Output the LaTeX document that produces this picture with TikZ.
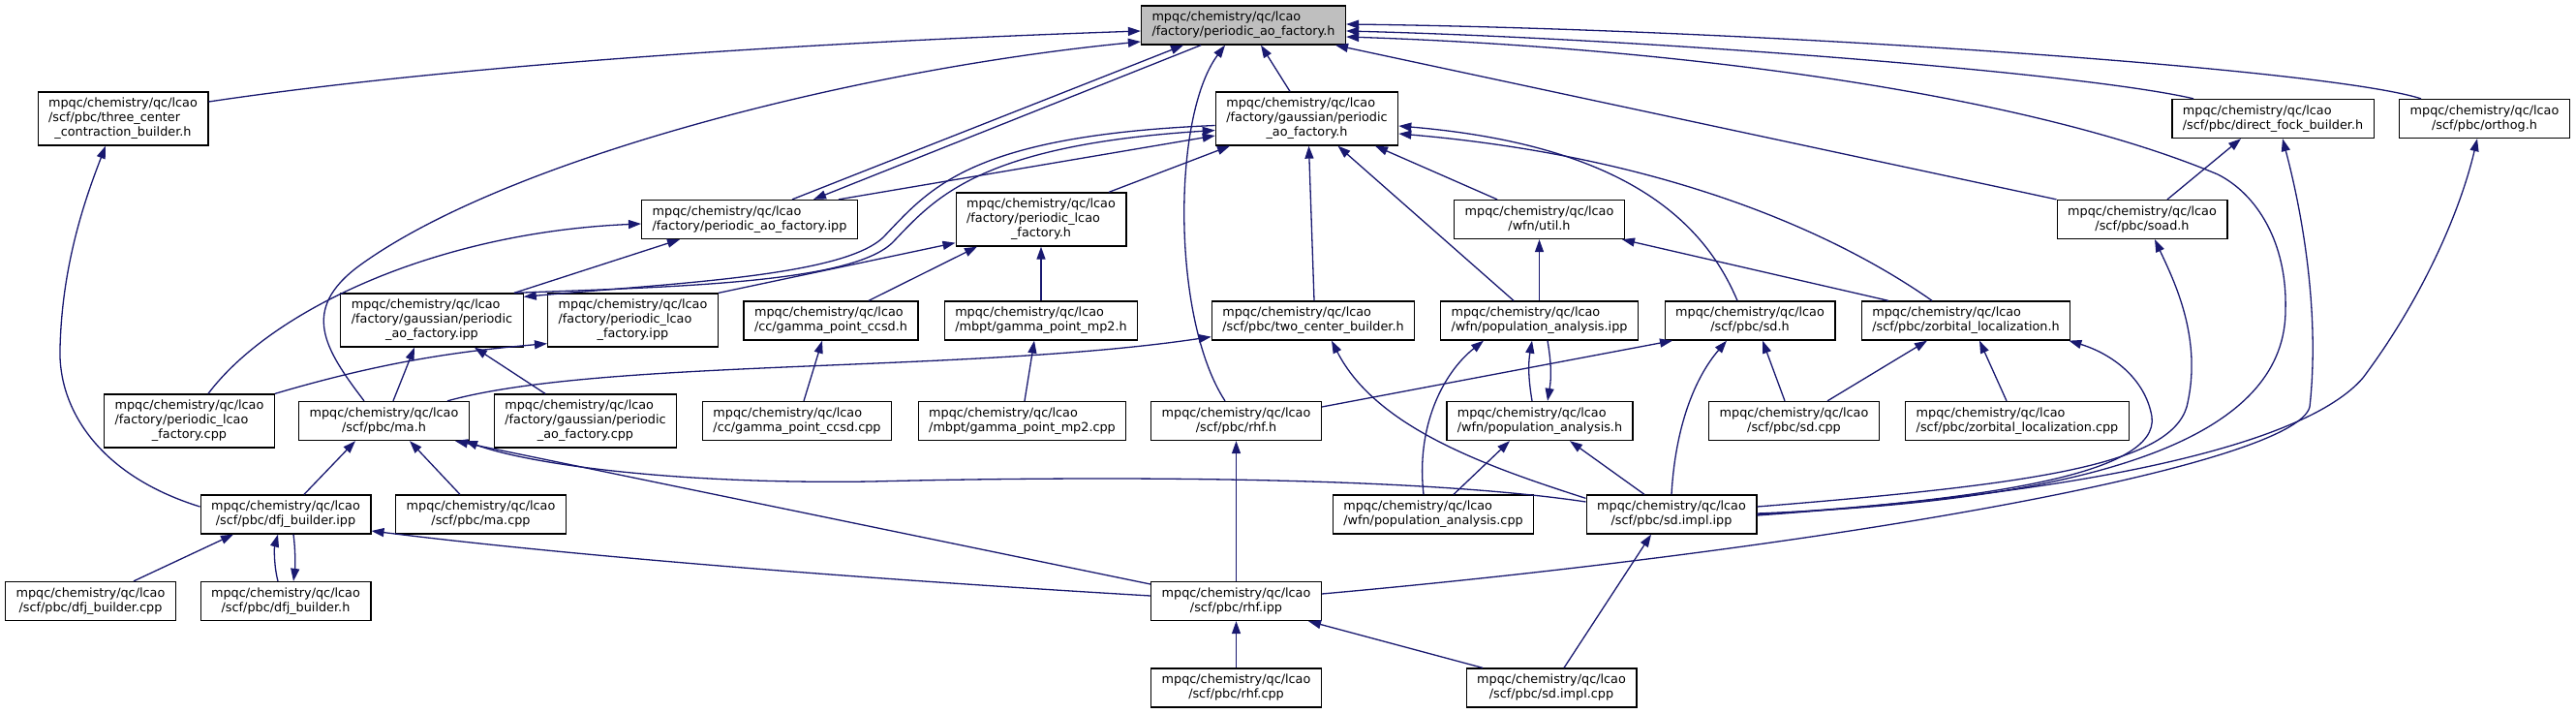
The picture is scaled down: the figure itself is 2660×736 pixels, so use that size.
\documentclass[tikz,border=0pt]{standalone}
\usepackage{fontspec}
\setmainfont{DejaVu Sans}
\usetikzlibrary{arrows.meta}
\definecolor{edgecol}{HTML}{191970}
\definecolor{rootfill}{HTML}{BFBFBF}
\newcommand\twol[2]{\begin{tabular}{@{}l@{}}#1\\\multicolumn{1}{@{}c@{}}{#2}\end{tabular}}
\newcommand\threel[3]{\begin{tabular}{@{}l@{}}#1\\#2\\\multicolumn{1}{@{}c@{}}{#3}\end{tabular}}
\newcommand\mpq{mpqc/chemistry/qc/lcao}
\tikzset{
  nbox/.style={draw=black, line width=1.3pt, fill=white, inner xsep=11pt, inner ysep=5pt,
    font=\fontsize{12.8}{15}\selectfont, anchor=center},
  edg/.style={draw=edgecol, line width=1.3pt, -{Triangle[length=13pt,width=9pt]}, fill=none}
}
\begin{document}
\begin{tikzpicture}[x=1pt,y=-1pt]
\fill[white] (0,0) rectangle (2660,736);
\useasboundingbox (0,0) rectangle (2660,736);
% nodes
\node[nbox,fill=rootfill] (root) at (1284,26) {\twol{\mpq}{/factory/periodic\_ao\_factory.h}};
\node[nbox] (three) at (127,122.5) {\threel{\mpq}{/scf/pbc/three\_center}{\_contraction\_builder.h}};
\node[nbox] (gaoh) at (1349.5,122.5) {\threel{\mpq}{/factory/gaussian/periodic}{\_ao\_factory.h}};
\node[nbox] (dfock) at (2347,122.5) {\twol{\mpq}{/scf/pbc/direct\_fock\_builder.h}};
\node[nbox] (orthog) at (2565.5,122.5) {\twol{\mpq}{/scf/pbc/orthog.h}};
\node[nbox] (paoipp) at (774,226.5) {\twol{\mpq}{/factory/periodic\_ao\_factory.ipp}};
\node[nbox] (plcaoh) at (1075,226.5) {\threel{\mpq}{/factory/periodic\_lcao}{\_factory.h}};
\node[nbox] (util) at (1589.5,226.5) {\twol{\mpq}{/wfn/util.h}};
\node[nbox] (soad) at (2212,226.5) {\twol{\mpq}{/scf/pbc/soad.h}};
\node[nbox] (gaoipp) at (446,330.5) {\threel{\mpq}{/factory/gaussian/periodic}{\_ao\_factory.ipp}};
\node[nbox] (plcaoipp) at (653.5,330.5) {\threel{\mpq}{/factory/periodic\_lcao}{\_factory.ipp}};
\node[nbox] (ccsdh) at (858,331) {\twol{\mpq}{/cc/gamma\_point\_ccsd.h}};
\node[nbox] (mp2h) at (1075,331) {\twol{\mpq}{/mbpt/gamma\_point\_mp2.h}};
\node[nbox] (twoc) at (1356,331) {\twol{\mpq}{/scf/pbc/two\_center\_builder.h}};
\node[nbox] (paipp) at (1589.5,331) {\twol{\mpq}{/wfn/population\_analysis.ipp}};
\node[nbox] (sdh) at (1807,331) {\twol{\mpq}{/scf/pbc/sd.h}};
\node[nbox] (zorbh) at (2030,331) {\twol{\mpq}{/scf/pbc/zorbital\_localization.h}};
\node[nbox] (plcaocpp) at (195.5,434.5) {\threel{\mpq}{/factory/periodic\_lcao}{\_factory.cpp}};
\node[nbox] (mah) at (396.5,434.5) {\twol{\mpq}{/scf/pbc/ma.h}};
\node[nbox] (gaocpp) at (604.5,434.5) {\threel{\mpq}{/factory/gaussian/periodic}{\_ao\_factory.cpp}};
\node[nbox] (ccsdcpp) at (823,434.5) {\twol{\mpq}{/cc/gamma\_point\_ccsd.cpp}};
\node[nbox] (mp2cpp) at (1055.5,434.5) {\twol{\mpq}{/mbpt/gamma\_point\_mp2.cpp}};
\node[nbox] (rhfh) at (1276.5,434.5) {\twol{\mpq}{/scf/pbc/rhf.h}};
\node[nbox] (pah) at (1590,434.5) {\twol{\mpq}{/wfn/population\_analysis.h}};
\node[nbox] (sdcpp) at (1852.5,434.5) {\twol{\mpq}{/scf/pbc/sd.cpp}};
\node[nbox] (zorbcpp) at (2083,434.5) {\twol{\mpq}{/scf/pbc/zorbital\_localization.cpp}};
\node[nbox] (dfjipp) at (295,531) {\twol{\mpq}{/scf/pbc/dfj\_builder.ipp}};
\node[nbox] (macpp) at (496.5,531) {\twol{\mpq}{/scf/pbc/ma.cpp}};
\node[nbox] (pacpp) at (1480,531) {\twol{\mpq}{/wfn/population\_analysis.cpp}};
\node[nbox] (sdimplipp) at (1726,531) {\twol{\mpq}{/scf/pbc/sd.impl.ipp}};
\node[nbox] (dfjcpp) at (93.5,620.5) {\twol{\mpq}{/scf/pbc/dfj\_builder.cpp}};
\node[nbox] (dfjh) at (295,620.5) {\twol{\mpq}{/scf/pbc/dfj\_builder.h}};
\node[nbox] (rhfipp) at (1276.5,620.5) {\twol{\mpq}{/scf/pbc/rhf.ipp}};
\node[nbox] (rhfcpp) at (1276.5,710) {\twol{\mpq}{/scf/pbc/rhf.cpp}};
\node[nbox] (sdimplcpp) at (1602,710) {\twol{\mpq}{/scf/pbc/sd.impl.cpp}};
% edges to root
\draw[edg] ([yshift=17.5pt]three.east) .. controls (450,70) and (800,45) .. ([yshift=-6pt]root.west);
\draw[edg] ([xshift=-20.5pt]mah.north) .. controls (335,360) and (310,320) .. (370,275) .. controls (520,165) and (880,72) .. ([yshift=-17pt]root.west);
\draw[edg] ([xshift=44pt]paoipp.north) -- ([xshift=-62pt]root.south);
\draw[edg] ([xshift=-44pt]root.south) -- ([xshift=66pt]paoipp.north);
\draw[edg] ([xshift=-17.5pt]gaoh.north) -- ([xshift=18pt]root.south);
\draw[edg] ([xshift=-11.5pt]rhfh.north) .. controls (1210,330) and (1210,120) .. ([xshift=-19pt]root.south);
\draw[edg] ([xshift=-82pt]dfock.north) .. controls (2150,75) and (1700,40) .. ([yshift=-6pt]root.east);
\draw[edg] ([xshift=-65.5pt]orthog.north) .. controls (2400,70) and (1800,30) .. ([yshift=1pt]root.east);
\draw[edg] (soad.north west) -- ([xshift=95pt]root.south);
\draw[edg] ([yshift=1pt]sdimplipp.east) .. controls (2200,515) and (2360,440) .. (2360,320) .. controls (2362,250) and (2330,200) .. (2290,180) .. controls (2100,100) and (1750,50) .. ([yshift=-12pt]root.east);
% edges to gaoh
\draw[edg] ([xshift=92pt]paoipp.north) -- ([yshift=-17.5pt]gaoh.west);
\draw[edg] ([yshift=-7pt]gaoh.west) .. controls (1000,140) and (960,195) .. (912,245) .. controls (870,285) and (700,292) .. ([yshift=-4pt]gaoipp.north east);
\draw[edg] ([xshift=-10pt]gaoipp.north east) .. controls (700,296) and (880,292) .. (922,250) .. controls (965,205) and (1010,150) .. ([yshift=-12pt]gaoh.west);
\draw[edg] ([xshift=70pt]plcaoh.north) -- ([xshift=-79.5pt]gaoh.south);
\draw[edg] ([xshift=1pt]twoc.north) -- ([xshift=2pt]gaoh.south);
\draw[edg] ([xshift=-26.5pt]paipp.north) -- ([xshift=32pt]gaoh.south);
\draw[edg] ([xshift=-43.5pt]util.north) -- ([xshift=70.5pt]gaoh.south);
\draw[edg] ([xshift=-13pt]sdh.north) .. controls (1760,230) and (1680,150) .. ([yshift=-7.5pt]gaoh.east);
\draw[edg] ([xshift=-35pt]zorbh.north) .. controls (1880,230) and (1700,160) .. ([yshift=-15.5pt]gaoh.east);
% factory files
\draw[edg] ([xshift=19.5pt]plcaocpp.north) .. controls (280,320) and (450,240) .. ([yshift=-4.5pt]paoipp.west);
\draw[edg] ([xshift=85pt]gaoipp.north) -- ([xshift=-72pt]paoipp.south);
\draw[edg] ([xshift=9.5pt]mah.north) -- ([xshift=-18pt]gaoipp.south);
\draw[edg] ([xshift=-41.5pt]gaocpp.north) -- ([xshift=44pt]gaoipp.south);
\draw[edg] (plcaocpp.north east) .. controls (400,372) and (480,362) .. ([yshift=4pt]plcaoipp.south west);
\draw[edg] (plcaoipp.north east) -- ([yshift=4pt]plcaoh.south west);
\draw[edg] ([xshift=39pt]ccsdh.north) -- ([xshift=-66pt]plcaoh.south);
\draw[edg] (mp2h.north) -- (plcaoh.south);
\draw[edg] ([xshift=7pt]ccsdcpp.north) -- ([xshift=-9pt]ccsdh.south);
\draw[edg] ([xshift=2.5pt]mp2cpp.north) -- ([xshift=-7pt]mp2h.south);
% middle
\draw[edg] ([xshift=65.5pt]mah.north) .. controls (620,370) and (1000,385) .. ([yshift=4pt]twoc.south west);
\draw[edg] ([yshift=-4pt]sdimplipp.north west) .. controls (1530,480) and (1420,440) .. ([xshift=19pt]twoc.south);
\draw[edg] (paipp.north) -- (util.south);
\draw[edg] ([xshift=-80pt]zorbh.north) -- ([xshift=-3pt]util.south east);
\draw[edg] ([xshift=-8pt]pah.north) .. controls (1578,390) and (1578,375) .. ([xshift=-7.5pt]paipp.south);
\draw[edg] ([xshift=8.5pt]paipp.south) .. controls (1602,375) and (1602,390) .. ([xshift=8pt]pah.north);
\draw[edg] ([xshift=-10pt]pacpp.north) .. controls (1462,440) and (1490,385) .. ([xshift=-57.5pt]paipp.south);
\draw[edg] ([xshift=21pt]pacpp.north) -- ([xshift=-31pt]pah.south);
\draw[edg] ([xshift=-28pt]sdimplipp.north) -- ([xshift=31pt]pah.south);
\draw[edg] ([yshift=14.5pt]rhfh.east) -- ([xshift=-80pt]sdh.south);
\draw[edg] (sdimplipp.north) .. controls (1730,440) and (1750,390) .. ([xshift=-24pt]sdh.south);
\draw[edg] ([xshift=-9.5pt]sdcpp.north) -- ([xshift=13pt]sdh.south);
\draw[edg] ([xshift=34.5pt]sdcpp.north) -- ([xshift=-40pt]zorbh.south);
\draw[edg] ([xshift=-11pt]zorbcpp.north) -- ([xshift=14pt]zorbh.south);
% right long curves
\draw[edg] ([yshift=-1pt]sdimplipp.east) .. controls (2050,515) and (2230,490) .. (2222,430) .. controls (2215,390) and (2180,365) .. ([xshift=-2pt]zorbh.south east);
\draw[edg] ([yshift=8pt]sdimplipp.east) .. controls (2100,500) and (2240,480) .. (2258,420) .. controls (2275,350) and (2245,290) .. ([xshift=13pt]soad.south);
\draw[edg] (sdimplipp.east) .. controls (2150,510) and (2380,460) .. (2440,390) .. controls (2500,310) and (2540,220) .. ([xshift=-7.5pt]orthog.south);
\draw[edg] ([yshift=7.5pt]rhfipp.east) .. controls (1900,565) and (2370,480) .. (2385,420) .. controls (2395,330) and (2380,230) .. ([xshift=10pt]dfock.south);
\draw[edg] ([xshift=26pt]soad.north) -- ([xshift=-33pt]dfock.south);
% lower left
\draw[edg] ([yshift=5.5pt]rhfipp.west) .. controls (900,598) and (600,575) .. ([yshift=-17pt]dfjipp.east);
\draw[edg] ([yshift=17.5pt]rhfipp.west) -- ([xshift=73.5pt]mah.south);
\draw[edg] ([yshift=13pt]sdimplipp.west) .. controls (1450,490) and (1100,492) .. (900,497) .. controls (700,500) and (550,480) .. ([xshift=83.5pt]mah.south);
\draw[edg] ([xshift=19pt]dfjipp.north) -- ([xshift=-29.5pt]mah.south);
\draw[edg] ([xshift=-21.5pt]macpp.north) -- ([xshift=26.5pt]mah.south);
\draw[edg] ([yshift=8pt]dfjipp.west) .. controls (100,490) and (60,420) .. (62,360) .. controls (64,270) and (90,200) .. ([xshift=-18pt]three.south);
\draw[edg] ([xshift=44.5pt]dfjcpp.north) -- ([xshift=-54pt]dfjipp.south);
\draw[edg] ([xshift=-8pt]dfjh.north) .. controls (283,585) and (283,566) .. ([xshift=-8pt]dfjipp.south);
\draw[edg] ([xshift=8pt]dfjipp.south) .. controls (305,566) and (305,585) .. ([xshift=8pt]dfjh.north);
\draw[edg] (rhfipp.north) -- (rhfh.south);
\draw[edg] (rhfcpp.north) -- (rhfipp.south);
\draw[edg] ([xshift=-71pt]sdimplcpp.north) -- ([xshift=-14pt]rhfipp.south east);
\draw[edg] ([xshift=13pt]sdimplcpp.north) -- ([xshift=-21pt]sdimplipp.south);
\end{tikzpicture}
\end{document}
